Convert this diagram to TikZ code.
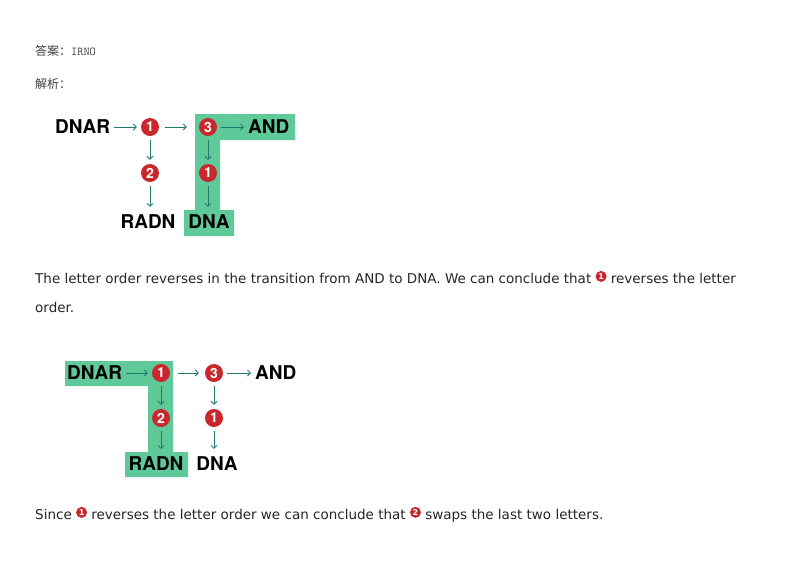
\documentclass[tikz,border=0pt]{standalone}
\usepackage{fontspec}
\setmainfont{DejaVu Sans}
\newfontfamily\heros{TeX Gyre Heros}
\newfontfamily\cjk{Noto Sans CJK SC}
\usetikzlibrary{arrows.meta}
\definecolor{grn}{HTML}{5FC99A}
\definecolor{teal}{HTML}{1E7A6E}
\definecolor{cred}{HTML}{C8282D}
\newcommand{\ic}[1]{\tikz[baseline=-0.5ex]\node[circle,fill=cred,inner sep=0pt,minimum size=11pt,text=white,font=\bfseries\fontsize{8}{8}\selectfont]{#1};}
\begin{document}
\begin{tikzpicture}[x=1pt,y=-1pt,
  lab/.style={font=\heros\bfseries\fontsize{19}{19}\selectfont,inner sep=0pt},
  num/.style={circle,fill=cred,inner sep=0pt,minimum size=18pt,text=white,font=\heros\bfseries\fontsize{14}{14}\selectfont},
  arr/.style={teal,line width=0.8pt,-{Straight Barb[length=3pt,width=6pt]},shorten >=4pt,shorten <=4pt},
  txt/.style={anchor=base west,inner sep=0pt,font=\fontsize{13.5}{14}\selectfont,text=black!85}]
\useasboundingbox (0,0) rectangle (800,566);
\fill[white] (0,0) rectangle (800,566);
\node[anchor=base west,inner sep=0pt,font=\cjk\fontsize{12}{12}\selectfont,text=black!75] (t1) at (35,55) {答案：\ttfamily IRNO};
\node[anchor=base west,inner sep=0pt,font=\cjk\fontsize{12}{12}\selectfont,text=black!75] (t2) at (35,88) {解析：};
% top diagram
\fill[grn] (195,114) rectangle (295,140) (195,114) rectangle (220,222) (184,210) rectangle (234,236);
\node[lab,anchor=west] (a) at (55,127) {DNAR};
\node[num] (c1) at (150,127) {1};
\node[num] (c3) at (208,127) {3};
\node[lab,anchor=west] (b) at (248,127) {AND};
\node[num] (c2) at (150,173) {2};
\node[num] (c1b) at (208,173) {1};
\node[lab] (d) at (148,222) {RADN};
\node[lab] (e) at (209,222) {DNA};
\draw[arr] (a.east) -- (c1);
\draw[arr,shorten <=6pt,shorten >=12pt] (c1) -- (c3);
\draw[arr] (c3) -- (b);
\draw[arr] (c1) -- (c2);
\draw[arr,shorten >=8pt] (c2) -- (c2 |- d.north);
\draw[arr] (c3) -- (c1b);
\draw[arr,shorten >=8pt] (c1b) -- (c1b |- e.north);
\node[txt] (p1) at (35,283) {The letter order reverses in the transition from AND to DNA. We can conclude that \ic{1} reverses the letter};
\node[txt] (p2) at (35,312) {order.};
% bottom diagram
\fill[grn] (65,361) rectangle (173,386) (148,361) rectangle (173,460) (125,452) rectangle (188,477);
\node[lab,anchor=west] (a2) at (67,373) {DNAR};
\node[num] (k1) at (161,373) {1};
\node[num] (k3) at (214,373) {3};
\node[lab,anchor=west] (b2) at (255,373) {AND};
\node[num] (k2) at (161,418) {2};
\node[num] (k1b) at (214,418) {1};
\node[lab] (d2) at (156,464) {RADN};
\node[lab] (e2) at (217,464) {DNA};
\draw[arr] (a2.east) -- (k1);
\draw[arr,shorten <=8pt,shorten >=6pt] (k1) -- (k3);
\draw[arr] (k3) -- (b2);
\draw[arr] (k1) -- (k2);
\draw[arr,shorten >=8pt] (k2) -- (k2 |- d2.north);
\draw[arr] (k3) -- (k1b);
\draw[arr,shorten >=8pt] (k1b) -- (k1b |- e2.north);
\node[txt] (p3) at (35,519) {Since \ic{1} reverses the letter order we can conclude that \ic{2} swaps the last two letters.};
\end{tikzpicture}
\end{document}
